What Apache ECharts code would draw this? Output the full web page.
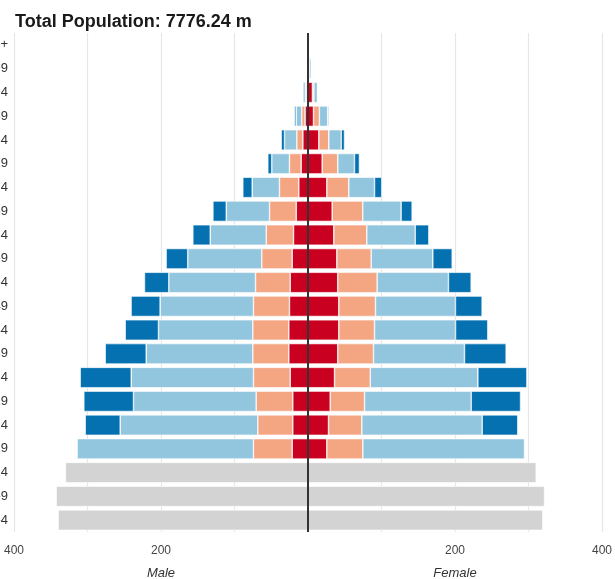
<!DOCTYPE html>
<html>
<head>
<meta charset="utf-8">
<script src="https://cdn.jsdelivr.net/npm/echarts@6/dist/echarts.min.js"></script>
<style>
  html, body { margin: 0; padding: 0; background: #fff; }
  #chart { width: 615px; height: 579px; }
</style>
</head>
<body>
<div id="chart"></div>
<script>
// age groups, bottom to top
var ages = ['0-4', '5-9', '10-14', '15-19', '20-24', '25-29', '30-34', '35-39', '40-44',
  '45-49', '50-54', '55-59', '60-64', '65-69', '70-74', '75-79', '80-84', '85-89',
  '90-94', '95-99', '100+']

var maleRed = [null, null, null, 21.5, 20.7, 20.7, 24.2, 26.1, 26.1, 25.2, 24.2, 21.5, 19.7, 16, 12.5, 9.3, 7, 4, 2, 0.5, 0.2]
var maleSalmon = [null, null, null, 52.7, 47.6, 49.8, 49.9, 49, 49, 49, 47.2, 41.4, 37.1, 36.3, 26.3, 15.9, 8.2, 4.5, 1.5, 0.3, 0.1]
var maleLightBlue = [null, null, null, 239.9, 187.2, 166.9, 166.4, 145, 128.3, 127, 118, 100.7, 76.2, 58.9, 37.1, 24.1, 16.7, 7.6, 3.5, 0.7, 0.1]
var maleDarkBlue = [null, null, null, null, 47.6, 67.6, 69.4, 55.8, 45.3, 39.5, 33.1, 29.4, 23.7, 18.2, 12.8, 5.4, 4.5, 2.3, 0.5, 0.1, 0]
var maleGrey = [339.9, 342.6, 330, null, null, null, null, null, null, null, null, null, null, null, null, null, null, null, null, null, null]

var femaleRed = [null, null, null, 25.6, 27.9, 30.2, 36.1, 40.5, 41.9, 41.9, 40.5, 39.2, 35.1, 32.9, 25.6, 19.3, 14.7, 7.5, 6, 1, 0.3]
var femaleSalmon = [null, null, null, 49, 45.3, 46.7, 48.6, 48.6, 48.6, 49.9, 53.6, 46.8, 44.9, 41.6, 29.9, 21.2, 13.6, 8, 2, 1, 0.2]
var femaleLightBlue = [null, null, null, 220, 163.8, 145.2, 146.4, 123.8, 110.2, 108.8, 97, 83.8, 65.9, 52.2, 35, 22.7, 16.9, 11.3, 5, 2.5, 0.3]
var femaleDarkBlue = [null, null, null, null, 48.4, 67.1, 66.7, 56.7, 43.9, 36.3, 30.9, 26.4, 18.5, 15, 9.9, 6.8, 4.5, 1.4, 0.5, 0.3, 0]
var femaleGrey = [319.5, 321.8, 310.5, null, null, null, null, null, null, null, null, null, null, null, null, null, null, null, null, null, null]

var tickLabels = { '-400': '400', '-200': '200', '200': '200', '400': '400' }

var colors = {
  red: '#ca0020',
  salmon: '#f4a582',
  lightBlue: '#92c5de',
  darkBlue: '#0571b0',
  grey: '#d3d3d3'
}

function neg (arr) {
  return arr.map(function (v) { return v == null ? null : -v })
}

function bar (name, data, color) {
  return {
    name: name,
    type: 'bar',
    stack: 'pop',
    data: data,
    barCategoryGap: '14%',
    itemStyle: { color: color, borderColor: '#fff', borderWidth: 0.6 },
    emphasis: { disabled: true }
  }
}

var series = [
  bar('m1', neg(maleRed), colors.red),
  bar('m2', neg(maleSalmon), colors.salmon),
  bar('m3', neg(maleLightBlue), colors.lightBlue),
  bar('m4', neg(maleDarkBlue), colors.darkBlue),
  bar('m5', neg(maleGrey), colors.grey),
  bar('f1', femaleRed, colors.red),
  bar('f2', femaleSalmon, colors.salmon),
  bar('f3', femaleLightBlue, colors.lightBlue),
  bar('f4', femaleDarkBlue, colors.darkBlue),
  bar('f5', femaleGrey, colors.grey)
]
// centre line, drawn above every bar
series[0].markLine = {
  silent: true,
  z: 20,
  symbol: 'none',
  label: { show: false },
  lineStyle: { color: '#333', width: 2, type: 'solid' },
  data: [{ xAxis: 0 }]
}

var chart = echarts.init(document.getElementById('chart'))
chart.setOption({
  animation: false,
  textStyle: { fontFamily: 'Liberation Sans, Arial, sans-serif' },
  title: {
    text: 'Total Population: 7776.24 m',
    left: 10,
    top: 8,
    textStyle: { fontSize: 18, fontWeight: 'bold', color: '#1a1a1a' }
  },
  grid: {
    left: 14,
    right: 13,
    top: 33,
    bottom: 47,
    containLabel: false,
    outerBoundsMode: 'none'
  },
  xAxis: {
    type: 'value',
    min: -400,
    max: 400,
    interval: 100,
    axisLine: { show: false },
    axisTick: { show: false },
    splitLine: { lineStyle: { color: '#e6e6e6', width: 1.2 } },
    axisLabel: {
      margin: 13,
      fontSize: 12,
      color: '#444',
      formatter: function (v) { return tickLabels[String(v)] || '' }
    }
  },
  yAxis: {
    type: 'category',
    data: ages,
    axisLine: { show: false, onZero: false },
    axisTick: { show: false },
    axisLabel: { margin: 6, fontSize: 13, color: '#333' }
  },
  series: series
})

var male = chart.convertToPixel({ xAxisIndex: 0 }, -200)
var female = chart.convertToPixel({ xAxisIndex: 0 }, 200)
chart.setOption({
  graphic: [
    { type: 'text', x: male, y: 573, style: { text: 'Male', fontSize: 13, fontStyle: 'italic', fill: '#333', align: 'center', verticalAlign: 'middle', fontFamily: 'Liberation Sans, Arial, sans-serif' } },
    { type: 'text', x: female, y: 573, style: { text: 'Female', fontSize: 13, fontStyle: 'italic', fill: '#333', align: 'center', verticalAlign: 'middle', fontFamily: 'Liberation Sans, Arial, sans-serif' } }
  ]
})
</script>
</body>
</html>
